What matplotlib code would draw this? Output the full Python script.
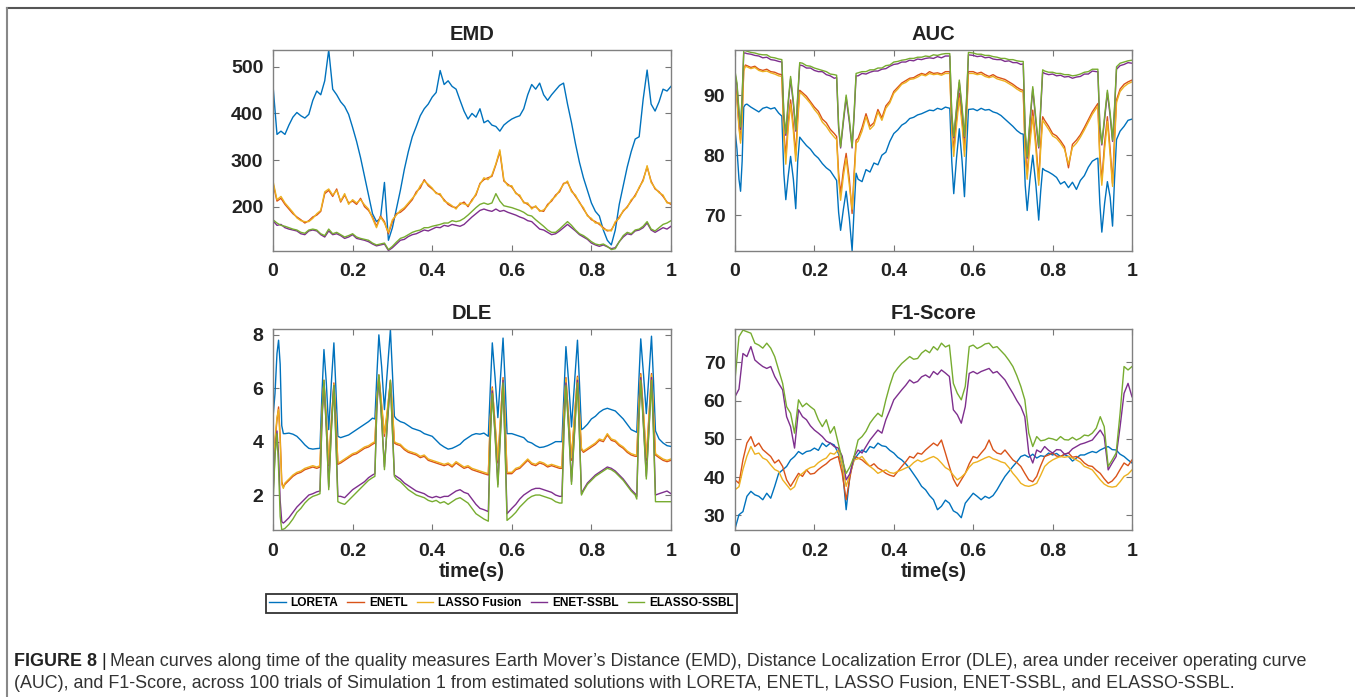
import numpy as np
import matplotlib
matplotlib.use("Agg")
import matplotlib.pyplot as plt
from matplotlib.lines import Line2D

plt.rcParams['font.family'] = ['Liberation Sans', 'DejaVu Sans']

methods = ["LORETA", "ENETL", "LASSO Fusion", "ENET-SSBL", "ELASSO-SSBL"]
colors = ["#0072BD", "#D95319", "#EDB120", "#7E2F8E", "#77AC30"]

# EMD and F1-Score: one sample every 10 ms
t_even = np.linspace(0, 1, 101)

# DLE and AUC: denser sampling around the six bursts
t_burst = [0, 0.005, 0.01, 0.014, 0.018, 0.022, 0.026,
           0.03, 0.04, 0.05, 0.06, 0.07, 0.08, 0.09, 0.10, 0.11,
           0.118, 0.123, 0.128, 0.134, 0.14, 0.147, 0.153, 0.158, 0.163,
           0.17, 0.18, 0.19, 0.20, 0.21, 0.22, 0.23, 0.24, 0.25,
           0.256, 0.261, 0.266, 0.273, 0.28, 0.288, 0.295, 0.30, 0.305,
           0.31, 0.32, 0.33, 0.34, 0.35, 0.36, 0.37, 0.38, 0.39, 0.40, 0.41, 0.42,
           0.43, 0.44, 0.45, 0.46, 0.47, 0.48, 0.49, 0.50, 0.51, 0.52, 0.53,
           0.541, 0.546, 0.551, 0.558, 0.565, 0.572, 0.578, 0.583, 0.588,
           0.60, 0.61, 0.62, 0.63, 0.64, 0.65, 0.66, 0.67, 0.68, 0.69, 0.70, 0.71, 0.72,
           0.726, 0.731, 0.736, 0.743, 0.75, 0.758, 0.765, 0.77, 0.775,
           0.78, 0.79, 0.80, 0.81, 0.82, 0.83, 0.84, 0.85, 0.86, 0.87, 0.88, 0.89, 0.90, 0.91,
           0.914, 0.919, 0.924, 0.931, 0.938, 0.945, 0.951, 0.956, 0.961,
           0.97, 0.98, 0.99, 1.0]

# ---------------- EMD ----------------
emd_loreta = [460, 355, 362, 355, 375, 392, 402, 395, 390, 398,
              428, 448, 440, 470, 536, 452, 440, 425, 415, 398,
              370, 340, 305, 265, 225, 185, 168, 175, 252, 128,
              155, 195, 235, 280, 318, 350, 372, 395, 410, 420,
              435, 445, 492, 462, 470, 458, 452, 428, 405, 388,
              400, 392, 410, 380, 385, 375, 372, 362, 375, 382,
              388, 392, 395, 410, 440, 462, 452, 465, 440, 428,
              440, 450, 460, 465, 420, 380, 335, 295, 262, 235,
              208, 190, 180, 150, 128, 118, 150, 205, 245, 285,
              318, 345, 350, 430, 493, 420, 405, 425, 452, 448, 458]
emd_enetl = [250, 212, 218, 205, 195, 185, 178, 172, 165, 170,
             178, 182, 190, 228, 235, 222, 238, 210, 225, 208,
             212, 205, 218, 200, 192, 178, 158, 180, 168, 142,
             168, 185, 188, 195, 205, 215, 232, 240, 258, 245,
             238, 230, 225, 215, 205, 200, 198, 205, 210, 200,
             215, 225, 250, 258, 262, 265, 290, 318, 255, 248,
             242, 230, 222, 210, 205, 198, 200, 192, 190, 205,
             212, 225, 232, 250, 252, 235, 222, 210, 195, 182,
             172, 168, 162, 155, 148, 150, 165, 178, 190, 200,
             212, 225, 240, 258, 285, 255, 238, 232, 222, 210, 205]
emd_lasso = [255, 215, 222, 208, 198, 188, 176, 170, 168, 168,
             175, 185, 192, 232, 238, 225, 235, 212, 228, 205,
             215, 208, 215, 204, 195, 175, 155, 178, 165, 145,
             172, 182, 192, 198, 208, 218, 228, 245, 255, 248,
             240, 228, 228, 212, 208, 202, 195, 208, 206, 203,
             212, 228, 248, 262, 258, 268, 292, 322, 258, 245,
             245, 228, 225, 208, 208, 195, 202, 190, 193, 202,
             215, 222, 235, 248, 255, 232, 225, 208, 198, 180,
             175, 165, 165, 152, 150, 148, 168, 175, 192, 198,
             215, 222, 242, 255, 288, 252, 240, 230, 225, 208, 208]
emd_enet_ssbl = [170, 160, 162, 155, 152, 150, 148, 142, 140, 148,
                 150, 148, 140, 135, 148, 140, 142, 138, 132, 135,
                 140, 132, 130, 128, 125, 120, 116, 118, 120, 106,
                 112, 120, 128, 130, 136, 140, 142, 146, 150, 148,
                 152, 156, 155, 160, 158, 162, 160, 158, 162, 170,
                 178, 185, 192, 195, 192, 190, 195, 190, 192, 188,
                 185, 182, 178, 175, 170, 168, 160, 152, 150, 145,
                 140, 142, 148, 155, 162, 155, 148, 140, 135, 130,
                 122, 118, 115, 118, 114, 110, 112, 125, 135, 142,
                 140, 148, 150, 155, 165, 150, 145, 150, 155, 152, 158]
emd_elasso_ssbl = [172, 165, 160, 158, 155, 152, 150, 145, 143, 150,
                   152, 150, 142, 138, 152, 142, 145, 140, 135, 138,
                   142, 135, 132, 130, 128, 122, 118, 120, 122, 108,
                   115, 124, 132, 135, 140, 145, 148, 150, 155, 155,
                   158, 160, 162, 165, 165, 170, 168, 170, 175, 182,
                   190, 198, 205, 208, 205, 208, 228, 212, 202, 200,
                   198, 195, 192, 188, 182, 180, 172, 165, 158, 150,
                   145, 145, 152, 160, 168, 160, 150, 142, 138, 132,
                   125, 120, 118, 120, 115, 108, 110, 125, 138, 145,
                   142, 150, 152, 158, 168, 152, 148, 155, 162, 165, 170]

# ---------------- AUC ----------------
auc_loreta = [84.2, 81.0, 76.0, 74.0, 79.0, 88.0, 88.4,
              88.5, 88.0, 87.6, 87.2, 87.8, 88.0, 87.7, 87.9, 87.0,
              86.5, 77.0, 72.6, 76.5, 79.8, 76.0, 71.1, 79.0, 83.0,
              82.4, 81.6, 81.0, 80.1, 79.5, 78.6, 77.9, 77.4, 76.4,
              75.8, 70.5, 67.5, 71.0, 74.0, 69.5, 64.1, 71.0, 77.0,
              76.0, 75.6, 77.6, 77.2, 78.7, 78.4, 80.0, 80.5, 82.3, 83.6, 84.2, 85.0,
              85.4, 86.1, 86.3, 86.7, 86.9, 87.2, 87.5, 87.4, 87.8, 87.6, 88.0,
              87.8, 79.0, 73.6, 79.5, 84.4, 79.0, 73.1, 80.5, 87.6,
              87.7, 87.4, 87.8, 87.5, 87.6, 87.2, 87.0, 86.6, 86.0, 85.4, 84.8, 84.1, 83.6,
              83.5, 75.0, 70.8, 76.0, 80.0, 75.0, 69.2, 74.0, 77.8,
              77.5, 77.2, 76.8, 76.3, 75.2, 75.6, 74.6, 75.5, 74.3, 75.8, 76.6, 78.0, 79.0, 79.4,
              79.5, 72.0, 67.2, 72.0, 75.6, 73.0, 68.2, 76.0, 82.6,
              84.0, 84.8, 85.8, 86.0]
auc_enetl = [92.0, 89.5, 85.0, 82.5, 86.5, 94.2, 95.0,
             94.9, 94.6, 94.8, 94.3, 94.1, 94.3, 93.9, 93.8, 93.5,
             93.4, 84.0, 79.8, 85.5, 89.2, 85.0, 80.0, 86.5, 90.8,
             90.4, 89.8, 88.9, 88.0, 87.3, 86.0, 85.4, 84.3, 83.6,
             83.1, 77.0, 73.6, 77.5, 80.3, 76.0, 70.3, 77.0, 82.5,
             82.8, 84.6, 86.9, 84.8, 85.4, 87.6, 86.2, 88.2, 89.0, 90.6, 91.3, 92.0,
             92.4, 92.8, 92.9, 93.3, 93.6, 93.4, 93.9, 93.6, 93.7, 93.5, 93.9,
             93.9, 85.0, 80.8, 86.0, 90.3, 86.0, 80.8, 87.0, 93.9,
             93.9, 93.6, 93.8, 93.4, 93.1, 93.4, 93.0, 92.8, 92.6, 92.2, 91.8, 91.3, 90.9,
             90.8, 81.0, 76.9, 83.0, 87.5, 82.0, 75.8, 82.0, 86.4,
             85.8, 84.8, 83.6, 83.2, 82.4, 81.4, 77.9, 81.8, 82.5, 83.4, 84.6, 85.9, 87.2, 88.2,
             88.6, 80.0, 75.8, 82.0, 86.4, 81.0, 75.3, 83.0, 89.2,
             91.0, 91.8, 92.2, 92.5]
auc_lasso = [91.5, 89.0, 84.5, 82.0, 86.0, 94.0, 94.8,
             94.7, 94.4, 94.6, 94.1, 93.9, 94.0, 93.7, 93.5, 93.2,
             93.1, 83.0, 78.5, 84.5, 88.5, 84.0, 79.0, 85.5, 90.5,
             90.1, 89.4, 88.6, 87.6, 86.8, 85.5, 84.8, 83.8, 83.0,
             82.6, 76.0, 72.5, 76.5, 79.5, 75.0, 71.0, 76.0, 82.0,
             82.3, 84.0, 86.4, 84.3, 85.0, 87.2, 85.8, 87.8, 88.7, 90.3, 91.0, 91.8,
             92.1, 92.6, 92.7, 93.0, 93.4, 93.2, 93.6, 93.4, 93.5, 93.3, 93.6,
             93.6, 84.0, 79.8, 85.0, 89.5, 85.0, 79.8, 86.0, 93.6,
             93.6, 93.4, 93.5, 93.1, 92.9, 93.1, 92.7, 92.5, 92.3, 91.9, 91.5, 91.0, 90.6,
             90.5, 80.0, 76.0, 82.0, 86.5, 81.0, 75.0, 81.0, 85.8,
             85.3, 84.3, 83.2, 82.8, 82.0, 81.0, 78.5, 81.3, 82.0, 83.0, 84.2, 85.5, 86.8, 87.8,
             88.2, 79.0, 75.0, 81.0, 85.6, 80.0, 74.8, 82.0, 88.8,
             90.6, 91.4, 91.9, 92.2]
auc_enet_ssbl = [93.6, 91.6, 87.0, 84.3, 89.5, 97.0, 97.0,
                 96.9, 96.8, 96.6, 96.5, 96.2, 96.3, 95.9, 95.8, 95.6,
                 95.5, 86.5, 83.3, 88.5, 92.7, 88.5, 84.0, 89.5, 95.0,
                 94.9, 94.5, 94.5, 94.1, 93.9, 93.9, 93.4, 93.2, 92.8,
                 92.9, 84.5, 81.2, 85.5, 89.6, 85.5, 81.2, 86.5, 93.2,
                 93.2, 93.6, 93.5, 93.8, 94.0, 94.0, 94.3, 94.4, 94.8, 95.1, 95.2, 95.5,
                 95.5, 95.8, 95.7, 96.0, 95.9, 96.1, 96.2, 96.1, 96.4, 96.2, 96.5,
                 96.5, 86.5, 82.9, 87.5, 92.1, 87.5, 82.9, 88.5, 96.7,
                 96.6, 96.4, 96.5, 96.2, 96.3, 96.0, 95.9, 95.9, 95.6, 95.7, 95.4, 95.4, 95.1,
                 95.2, 83.5, 79.5, 85.5, 91.0, 85.5, 81.2, 87.5, 93.8,
                 93.6, 93.4, 93.5, 93.2, 93.3, 93.0, 93.1, 92.8, 93.0, 93.1, 93.5, 93.5, 94.0, 93.9,
                 93.9, 84.5, 81.7, 86.0, 90.4, 86.5, 82.3, 87.5, 94.3,
                 94.9, 95.1, 95.4, 95.3]
auc_elasso_ssbl = [94.0, 92.0, 87.5, 84.7, 90.0, 97.4, 97.4,
                   97.3, 97.1, 97.0, 96.8, 96.7, 96.7, 96.3, 96.2, 96.0,
                   95.9, 87.0, 83.6, 89.0, 93.1, 89.0, 84.2, 90.0, 95.4,
                   95.3, 94.9, 94.8, 94.5, 94.3, 94.1, 93.9, 93.5, 93.4,
                   93.3, 85.0, 81.4, 86.0, 90.0, 86.0, 81.4, 87.0, 93.6,
                   93.7, 93.9, 93.9, 94.2, 94.2, 94.5, 94.5, 94.9, 95.0, 95.5, 95.6, 95.8,
                   95.9, 96.1, 96.1, 96.3, 96.3, 96.5, 96.4, 96.7, 96.6, 96.8, 96.9,
                   96.9, 87.0, 83.1, 88.0, 92.5, 88.0, 83.1, 89.0, 97.1,
                   97.0, 96.8, 96.8, 96.6, 96.6, 96.4, 96.3, 96.1, 96.1, 95.9, 95.9, 95.7, 95.6,
                   95.6, 84.0, 79.7, 86.0, 91.4, 86.0, 81.4, 88.0, 94.2,
                   94.0, 93.8, 93.8, 93.6, 93.6, 93.4, 93.4, 93.2, 93.3, 93.5, 93.8, 93.9, 94.3, 94.3,
                   94.3, 85.0, 81.9, 86.5, 90.8, 87.0, 82.5, 88.0, 94.7,
                   95.3, 95.5, 95.7, 95.8]

# ---------------- DLE ----------------
dle_loreta = [4.9, 5.8, 7.3, 7.8, 6.9, 4.6, 4.3,
              4.3, 4.32, 4.28, 4.2, 4.05, 3.88, 3.75, 3.72, 3.74,
              3.75, 5.8, 7.45, 6.2, 4.45, 6.3, 7.7, 6.0, 4.2,
              4.15, 4.2, 4.25, 4.35, 4.45, 4.55, 4.65, 4.75, 4.88,
              4.85, 6.5, 8.0, 6.8, 5.2, 6.8, 8.2, 6.6, 4.95,
              4.85, 4.75, 4.7, 4.6, 4.5, 4.45, 4.4, 4.3, 4.25, 4.2, 4.05, 3.9,
              3.8, 3.72, 3.75, 3.82, 3.9, 4.05, 4.15, 4.25, 4.3, 4.28, 4.32,
              4.2, 6.0, 7.7, 6.4, 4.9, 6.5, 7.88, 6.3, 4.3,
              4.3, 4.25, 4.2, 4.15, 4.0, 3.95, 3.85, 3.78, 3.8, 3.85, 3.92, 4.0, 4.0,
              4.0, 5.8, 7.56, 6.2, 4.55, 6.3, 7.8, 6.2, 4.45,
              4.5, 4.65, 4.85, 4.95, 5.1, 5.2, 5.25, 5.2, 5.15, 5.0, 4.85, 4.65, 4.45, 4.38,
              4.35, 6.2, 7.85, 6.5, 5.05, 6.6, 7.95, 6.3, 4.4,
              4.1, 3.95, 3.85, 3.82]
dle_enetl = [2.7, 4.0, 4.8, 5.3, 4.2, 2.5, 2.3,
             2.4, 2.55, 2.7, 2.8, 2.85, 2.95, 3.0, 3.05, 3.0,
             3.05, 5.0, 6.3, 4.8, 3.1, 4.8, 6.2, 4.8, 3.15,
             3.2, 3.3, 3.4, 3.5, 3.55, 3.65, 3.75, 3.8, 3.9,
             3.95, 5.5, 6.5, 5.3, 4.2, 5.2, 6.3, 5.2, 3.95,
             3.9, 3.85, 3.7, 3.6, 3.55, 3.5, 3.4, 3.45, 3.3, 3.25, 3.2, 3.15,
             3.1, 3.15, 3.05, 3.2, 3.1, 3.0, 3.05, 2.95, 2.9, 2.85, 2.8,
             2.75, 4.8, 6.05, 4.6, 3.2, 4.9, 6.4, 4.8, 2.8,
             2.8, 2.95, 3.0, 3.15, 3.3, 3.15, 3.1, 3.2, 3.15, 3.05, 3.1, 3.05, 3.0,
             3.0, 5.0, 6.4, 4.8, 3.3, 5.0, 6.45, 5.0, 3.7,
             3.6, 3.7, 3.8, 3.9, 4.05, 4.0, 4.25, 4.05, 4.0, 3.85, 3.75, 3.6, 3.5, 3.45,
             3.45, 5.2, 6.55, 5.0, 3.3, 5.0, 6.55, 5.0, 3.5,
             3.4, 3.3, 3.25, 3.3]
dle_lasso = [2.8, 4.1, 4.9, 5.2, 4.0, 2.4, 2.25,
             2.45, 2.6, 2.75, 2.85, 2.9, 3.0, 3.05, 3.1, 3.05,
             3.1, 5.1, 6.25, 4.9, 3.15, 4.9, 6.15, 4.9, 3.2,
             3.25, 3.35, 3.45, 3.55, 3.6, 3.7, 3.8, 3.85, 3.95,
             4.0, 5.6, 6.45, 5.4, 4.3, 5.3, 6.25, 5.3, 4.0,
             3.95, 3.9, 3.75, 3.65, 3.6, 3.55, 3.45, 3.5, 3.35, 3.3, 3.25, 3.2,
             3.15, 3.2, 3.1, 3.25, 3.15, 3.05, 3.1, 3.0, 2.95, 2.9, 2.85,
             2.8, 4.9, 6.0, 4.7, 3.3, 5.0, 6.35, 4.9, 2.85,
             2.85, 3.0, 3.05, 3.2, 3.35, 3.2, 3.15, 3.25, 3.2, 3.1, 3.15, 3.1, 3.05,
             3.05, 5.1, 6.35, 4.9, 3.4, 5.1, 6.4, 5.1, 3.75,
             3.65, 3.75, 3.85, 3.95, 4.1, 4.05, 4.3, 4.1, 4.05, 3.9, 3.8, 3.65, 3.55, 3.5,
             3.5, 5.3, 6.5, 5.1, 3.4, 5.1, 6.5, 5.1, 3.55,
             3.45, 3.35, 3.3, 3.35]
dle_enet_ssbl = [2.0, 3.5, 4.4, 3.5, 1.8, 1.0, 0.95,
                 1.0, 1.15, 1.35, 1.55, 1.7, 1.85, 2.0, 2.05, 2.12,
                 2.15, 4.8, 6.2, 4.5, 2.3, 4.6, 6.1, 4.2, 1.95,
                 1.95, 1.9, 2.05, 2.2, 2.3, 2.4, 2.5, 2.65, 2.75,
                 2.8, 5.3, 6.4, 4.8, 3.05, 4.8, 6.2, 4.5, 2.75,
                 2.7, 2.6, 2.45, 2.35, 2.25, 2.15, 2.1, 2.05, 1.95, 1.9, 1.95, 1.9,
                 1.95, 1.95, 2.05, 2.15, 2.2, 2.1, 2.05, 1.85, 1.65, 1.5, 1.45,
                 1.38, 4.2, 5.9, 4.3, 2.4, 4.5, 6.3, 4.0, 1.3,
                 1.5, 1.65, 1.85, 2.0, 2.1, 2.2, 2.25, 2.25, 2.2, 2.15, 2.1, 2.0, 1.95,
                 1.95, 4.5, 6.2, 4.5, 2.5, 4.5, 6.3, 4.3, 2.05,
                 2.2, 2.45, 2.6, 2.75, 2.85, 2.95, 3.05, 3.0, 2.9, 2.75, 2.6, 2.4, 2.2, 2.05,
                 1.95, 4.8, 6.4, 4.6, 2.7, 4.6, 6.4, 4.5, 2.0,
                 2.05, 2.1, 2.15, 2.05]
dle_elasso_ssbl = [1.6, 3.5, 4.3, 3.0, 1.2, 0.7, 0.72,
                   0.75, 0.9, 1.1, 1.35, 1.5, 1.7, 1.85, 1.95, 2.0,
                   2.05, 4.9, 6.3, 4.5, 2.2, 4.5, 6.1, 4.0, 1.75,
                   1.7, 1.65, 1.8, 1.95, 2.1, 2.25, 2.4, 2.55, 2.65,
                   2.7, 5.4, 6.5, 4.8, 2.95, 4.9, 6.3, 4.4, 2.7,
                   2.6, 2.5, 2.35, 2.2, 2.1, 2.0, 1.95, 1.9, 1.8, 1.75, 1.8, 1.7,
                   1.75, 1.65, 1.75, 1.85, 1.9, 1.8, 1.7, 1.5, 1.3, 1.2, 1.1,
                   1.02, 4.0, 5.8, 4.2, 2.3, 4.4, 6.2, 3.8, 1.05,
                   1.2, 1.35, 1.55, 1.7, 1.85, 1.95, 2.0, 2.0, 1.95, 1.9, 1.85, 1.75, 1.7,
                   1.7, 4.4, 6.1, 4.4, 2.4, 4.4, 6.2, 4.2, 2.0,
                   2.15, 2.4, 2.55, 2.7, 2.8, 2.9, 3.0, 2.95, 2.85, 2.7, 2.55, 2.35, 2.15, 2.0,
                   1.85, 4.7, 6.3, 4.5, 2.6, 4.5, 6.3, 4.3, 1.75,
                   1.75, 1.75, 1.75, 1.75]

# ---------------- F1-Score ----------------
f1_loreta = [26.5, 30.2, 31.0, 35.0, 36.3, 35.4, 35.0, 34.1, 35.8, 34.5,
             37.6, 41.0, 41.9, 42.8, 44.5, 45.4, 46.7, 46.0, 46.7, 46.9,
             47.6, 47.0, 48.9, 48.0, 48.9, 48.4, 46.3, 42.8, 31.5, 41.0,
             44.5, 46.0, 47.1, 46.5, 48.0, 47.6, 48.9, 48.2, 48.0, 47.0,
             46.3, 45.2, 44.5, 43.5, 42.3, 40.8, 39.3, 37.6, 36.7, 35.2,
             34.1, 31.5, 32.4, 34.0, 33.2, 31.2, 30.6, 29.4, 33.2, 34.5,
             35.8, 35.0, 34.1, 35.0, 34.5, 35.2, 36.7, 38.5, 40.2, 41.5,
             42.8, 44.0, 45.4, 45.8, 45.2, 46.0, 45.0, 45.6, 45.4, 46.3,
             45.8, 46.2, 45.4, 45.9, 45.4, 44.2, 45.0, 45.8, 45.8, 46.3,
             46.7, 46.4, 47.1, 47.6, 48.0, 47.2, 47.1, 46.0, 45.4, 44.5, 43.7]
f1_enetl = [39.3, 38.4, 44.5, 48.9, 50.6, 48.0, 48.9, 47.2, 46.3, 45.4,
            43.7, 44.5, 42.8, 39.3, 37.6, 39.3, 41.0, 40.2, 41.9, 40.8,
            41.0, 42.0, 42.8, 43.5, 44.5, 45.0, 45.4, 41.0, 34.1, 40.2,
            45.4, 45.0, 44.5, 43.6, 42.8, 43.5, 42.4, 41.8, 41.0, 40.5,
            40.2, 41.5, 42.8, 44.0, 45.4, 45.0, 46.3, 46.0, 47.1, 48.0,
            48.9, 48.2, 49.7, 46.3, 42.8, 39.5, 37.6, 39.3, 41.0, 43.5,
            45.4, 45.0, 46.3, 47.5, 49.7, 47.2, 46.3, 46.0, 47.1, 45.8,
            44.5, 43.8, 42.8, 41.0, 39.3, 38.8, 40.2, 43.0, 45.4, 45.8,
            46.3, 45.5, 45.4, 46.0, 46.3, 45.2, 45.4, 44.8, 43.7, 43.0,
            42.8, 41.8, 41.0, 39.6, 38.4, 39.0, 40.2, 42.0, 43.7, 43.0, 44.5]
f1_lasso = [36.7, 37.5, 42.0, 45.5, 48.0, 46.0, 46.3, 45.0, 44.5, 43.2,
            42.0, 41.5, 39.3, 38.0, 36.7, 37.5, 40.2, 41.0, 41.9, 42.5,
            42.8, 43.8, 44.5, 45.0, 46.3, 46.0, 47.1, 43.0, 37.6, 41.0,
            44.5, 44.8, 45.4, 44.0, 42.8, 42.0, 41.0, 41.5, 41.9, 41.2,
            41.0, 41.5, 41.9, 42.4, 42.8, 43.8, 44.5, 44.0, 44.5, 45.0,
            45.4, 44.8, 43.7, 42.5, 41.9, 40.5, 39.3, 40.0, 41.0, 42.6,
            43.7, 44.0, 44.5, 45.0, 45.4, 44.8, 44.5, 44.0, 43.7, 42.5,
            41.0, 39.8, 38.4, 37.8, 37.6, 37.9, 38.4, 40.5, 42.8, 43.8,
            44.5, 45.0, 45.4, 45.2, 45.4, 45.0, 44.5, 43.9, 42.8, 42.4,
            41.9, 40.6, 39.3, 38.2, 37.6, 37.4, 37.6, 38.8, 40.2, 40.8, 41.9]
f1_enet_ssbl = [61.0, 63.0, 72.3, 71.5, 74.1, 70.6, 69.7, 68.9, 68.4, 68.9,
                66.3, 64.5, 62.8, 55.8, 53.2, 47.6, 57.6, 55.8, 55.0, 53.4,
                52.3, 51.5, 50.6, 49.4, 48.9, 48.0, 47.6, 45.5, 39.3, 41.0,
                45.4, 47.1, 46.3, 48.0, 49.7, 51.0, 52.3, 51.5, 55.0, 57.5,
                60.2, 61.5, 62.8, 64.0, 65.4, 64.6, 65.0, 66.2, 66.7, 66.0,
                67.6, 66.8, 68.0, 67.2, 66.3, 57.6, 56.3, 54.1, 58.4, 67.1,
                67.6, 67.0, 67.6, 68.0, 68.4, 67.2, 67.6, 66.5, 65.4, 63.6,
                61.9, 60.0, 58.4, 55.8, 46.3, 43.7, 47.1, 46.5, 48.0, 47.0,
                46.3, 47.2, 47.1, 46.0, 46.3, 47.4, 48.0, 48.6, 48.9, 49.3,
                49.7, 51.0, 52.3, 50.6, 41.9, 43.7, 45.4, 53.2, 61.9, 64.5, 61.0]
f1_elasso_ssbl = [65.4, 76.7, 78.4, 78.0, 77.6, 75.0, 74.5, 73.7, 75.0, 73.7,
                  71.5, 68.0, 64.5, 58.4, 56.7, 51.5, 60.2, 58.4, 59.3, 58.4,
                  57.6, 55.0, 53.2, 55.0, 51.5, 53.2, 48.9, 44.5, 41.0, 42.8,
                  45.4, 49.7, 50.6, 52.0, 54.1, 55.5, 56.7, 55.8, 60.2, 64.0,
                  67.1, 68.5, 69.7, 70.6, 71.5, 70.8, 71.0, 72.4, 73.2, 72.5,
                  74.1, 73.2, 75.0, 74.0, 74.5, 64.5, 61.9, 60.2, 63.7, 74.1,
                  74.5, 73.6, 74.1, 74.8, 75.0, 73.8, 74.1, 73.0, 71.9, 70.5,
                  68.9, 66.5, 63.7, 60.2, 51.5, 48.0, 50.6, 49.5, 49.7, 50.2,
                  50.0, 49.6, 50.6, 49.8, 49.7, 50.4, 49.7, 50.2, 51.0, 50.8,
                  51.5, 52.8, 55.8, 53.2, 42.8, 44.5, 46.3, 56.7, 68.9, 68.0, 68.9]

panels = [
    ("EMD", t_even, [emd_loreta, emd_enetl, emd_lasso, emd_enet_ssbl, emd_elasso_ssbl],
     [200, 300, 400, 500], (105, 536), False),
    ("AUC", t_burst, [auc_loreta, auc_enetl, auc_lasso, auc_enet_ssbl, auc_elasso_ssbl],
     [70, 80, 90], (64.06, 97.5), False),
    ("DLE", t_burst, [dle_loreta, dle_enetl, dle_lasso, dle_enet_ssbl, dle_elasso_ssbl],
     [2, 4, 6, 8], (0.69, 8.22), True),
    ("F1-Score", t_even, [f1_loreta, f1_enetl, f1_lasso, f1_enet_ssbl, f1_elasso_ssbl],
     [30, 40, 50, 60, 70], (26.2, 78.7), True),
]

W, H = 1355, 697
fig = plt.figure(figsize=(W / 100, H / 100), dpi=100)

# pixel boxes of the four axes: left, top, right, bottom
boxes = [(273, 50, 671, 251), (735, 50, 1132, 251),
         (273, 329, 671, 530), (735, 329, 1132, 530)]

handles = []
for (title, t, series, yt, ylim, has_xlabel), (l, tp, r, b) in zip(panels, boxes):
    ax = fig.add_axes([l / W, 1 - b / H, (r - l) / W, (b - tp) / H])
    for vals, name, c in zip(series, methods, colors):
        if len(vals) != len(t):
            raise ValueError(f"{title} {name}: {len(vals)} vs {len(t)}")
        ln, = ax.plot(t, vals, color=c, lw=1.0, label=name)
        if title == "EMD":
            handles.append(ln)
    ax.set_xlim(0, 1)
    ax.set_ylim(*ylim)
    ax.set_xticks([0, 0.2, 0.4, 0.6, 0.8, 1])
    ax.set_xticklabels(["0", "0.2", "0.4", "0.6", "0.8", "1"])
    ax.set_yticks(yt)
    ax.tick_params(direction="in", top=True, right=True, length=4, width=0.8,
                   color="#777777", labelsize=14, pad=7)
    ax.tick_params(axis="x", pad=9)
    for lab in ax.get_xticklabels() + ax.get_yticklabels():
        lab.set_fontweight("bold")
        lab.set_color("#222222")
    for s in ax.spines.values():
        s.set_color("#808080")
        s.set_linewidth(1.0)
    ax.set_title(title, fontsize=14.5, fontweight="bold", color="#222222", pad=7)
    if has_xlabel:
        ax.set_xlabel("time(s)", fontsize=14.5, fontweight="bold", color="#222222", labelpad=2)

leg_font = {"weight": "bold", "size": 8.6}
leg = fig.legend(handles, methods, loc="center", bbox_to_anchor=(501.5 / W, 1 - 603.5 / H),
                 ncol=5, prop=leg_font, frameon=True, fancybox=False, edgecolor="#333333",
                 framealpha=1, borderpad=0.3, handlelength=1.4, handletextpad=0.4,
                 columnspacing=0.75, borderaxespad=0)
leg.get_frame().set_linewidth(1.3)

# outer frame of the figure panel (top and left edges only)
fig.add_artist(Line2D([7 / W, 1], [1 - 8 / H, 1 - 8 / H], transform=fig.transFigure,
                      color="#555555", lw=1.5))
fig.add_artist(Line2D([7 / W, 7 / W], [0, 1 - 8 / H], transform=fig.transFigure,
                      color="#888888", lw=1.5))

# caption
renderer = fig.canvas.get_renderer()
x0 = 14 / W
cap_size = 12.9
lines = ["Mean curves along time of the quality measures Earth Mover\u2019s Distance (EMD), "
         "Distance Localization Error (DLE), area under receiver operating curve",
         "(AUC), and F1-Score, across 100 trials of Simulation 1 from estimated solutions with "
         "LORETA, ENETL, LASSO Fusion, ENET-SSBL, and ELASSO-SSBL."]
head = fig.text(x0, 1 - 661 / H, "FIGURE 8", weight="bold",
                fontsize=cap_size, color="#222222", va="center")
hw = head.get_window_extent(renderer).width / W
bar = fig.text(x0 + hw + 4 / W, 1 - 661 / H, "|", fontsize=cap_size,
               color="#222222", va="center")
bw = bar.get_window_extent(renderer).width / W
fig.text(x0 + hw + bw + 8 / W, 1 - 661 / H, lines[0], fontsize=cap_size,
         color="#333333", va="center")
fig.text(x0, 1 - 683 / H, lines[1], fontsize=cap_size,
         color="#333333", va="center")

fig.savefig("out.png", dpi=100)
